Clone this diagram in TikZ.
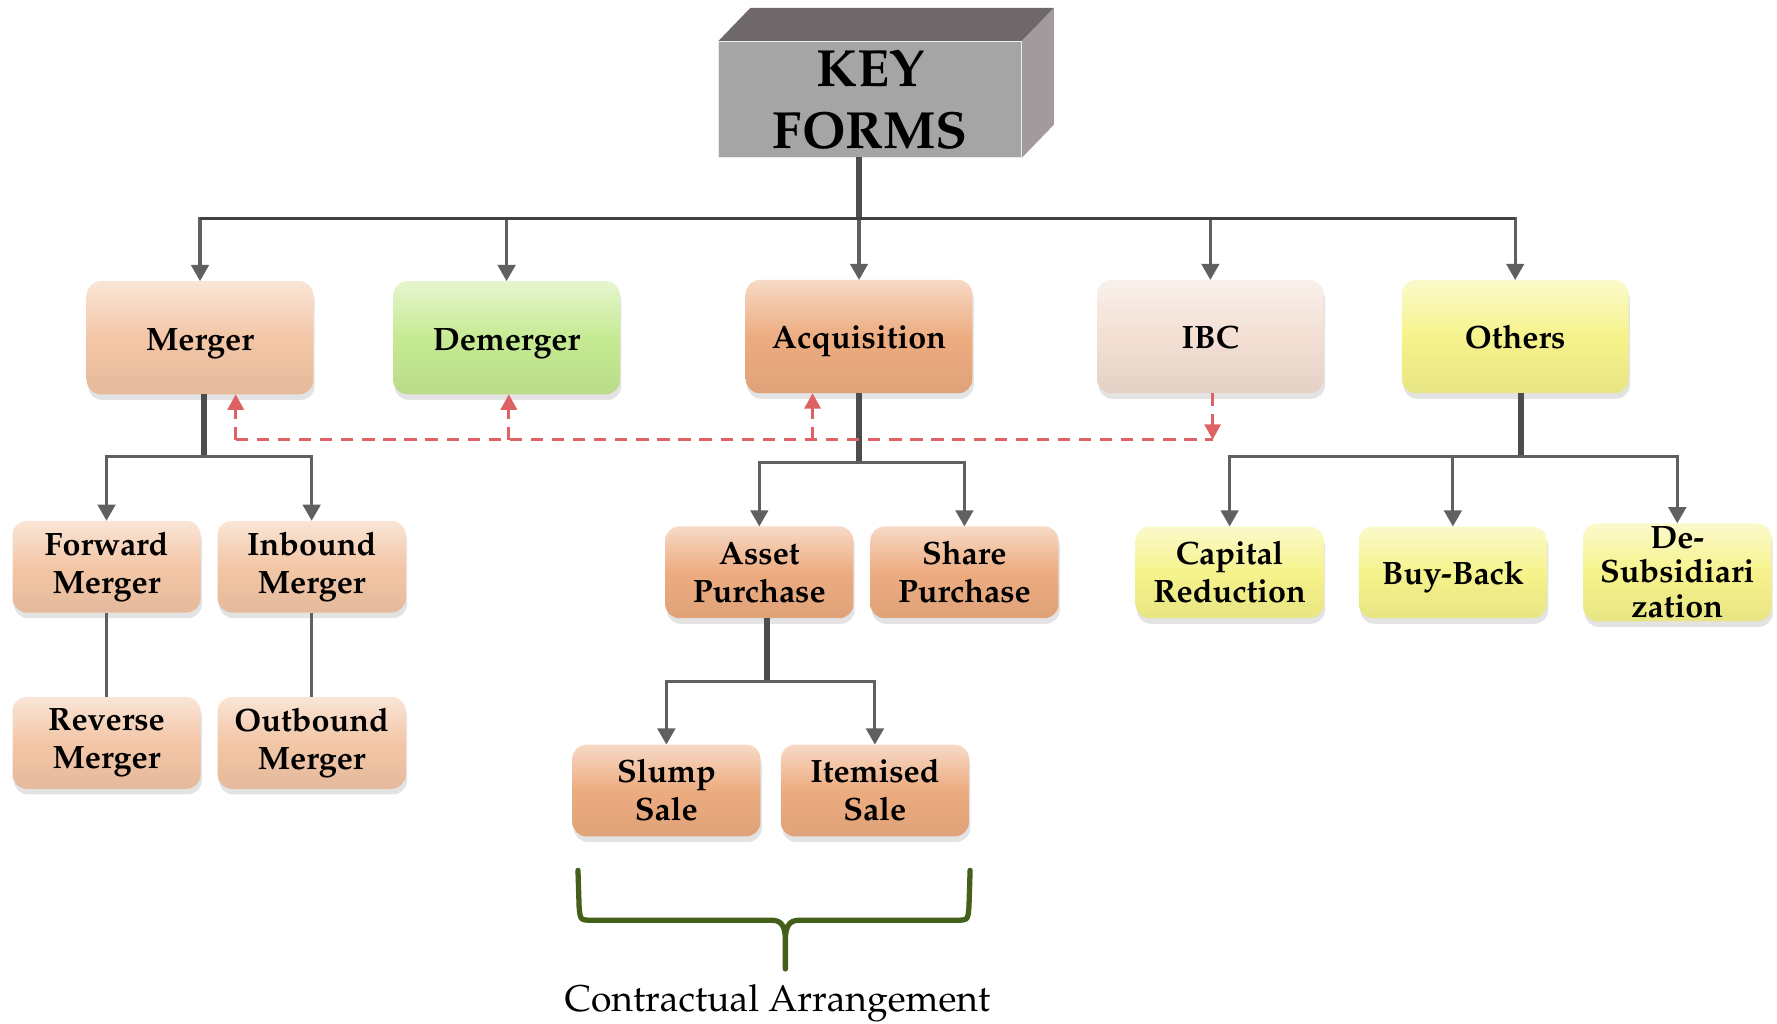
\documentclass[tikz,border=0pt]{standalone}
\usepackage[T1]{fontenc}
\usepackage{mathpazo}
\usepackage{xcolor}
\usepackage{tikz}
\usetikzlibrary{arrows.meta,shadows}

\definecolor{peach}{HTML}{F3C6A6}
\definecolor{salmon}{HTML}{EDAC80}
\definecolor{leaf}{HTML}{C6EA93}
\definecolor{blush}{HTML}{F3DFD3}
\definecolor{lemon}{HTML}{F6F38C}
\definecolor{keyfront}{HTML}{A5A5A5}
\definecolor{keytop}{HTML}{6E686A}
\definecolor{keyside}{HTML}{A29A9C}
\definecolor{wire}{HTML}{606060}
\definecolor{dashred}{HTML}{DE6163}
\definecolor{olive}{HTML}{435F19}

\tikzset{
  tone/.style={top color=#1!45!white, bottom color=#1!94!black, middle color=#1},
  box/.style={rounded corners=4pt, minimum width=2.267cm, minimum height=1.133cm,
    inner sep=1pt, outer sep=0pt, align=center,
    font=\fontsize{9.2}{10.8}\selectfont\bfseries,
    drop shadow={opacity=0.22, shadow xshift=0.4pt, shadow yshift=-1.6pt}},
  subbox/.style={box, minimum width=1.881cm, minimum height=0.918cm},
  oneline/.style={text height=1.6ex, text depth=0.1ex},
  wire/.style={draw=wire, line width=0.9pt},
  stem/.style={draw=wire!80!black, line width=1.6pt},
  arrow/.style={wire, -{Triangle[width=5pt,length=4.6pt]}},
  dashline/.style={draw=dashred, line width=0.8pt, dash pattern=on 3.5pt off 2.5pt},
  redarrow/.style={dashline, -{Triangle[width=4.6pt,length=4.4pt]}, dashred},
}

\begin{document}
\begin{tikzpicture}[x=0.011333cm, y=-0.011333cm]
  \useasboundingbox (0,0) rectangle (1568,903);

  % key box with depth
  \node[fill=keyfront, draw=white!85!gray, line width=0.4pt, outer sep=0pt,
    minimum width=3.037cm, minimum height=1.167cm, inner sep=0pt, align=center,
    font=\fontsize{14.9}{17.7}\selectfont\bfseries] (key) at (768,87.5) {KEY\\FORMS};
  \fill[keytop] (key.north west) -- ++(28,-29) -- ++(268,0) -- (key.north east) -- cycle;
  \fill[keyside] (key.north east) -- ++(28,-29) -- ++(0,103) -- (key.south east) -- cycle;

  % main forms
  \node[box, oneline, tone=peach] (merger) at (176.5,298) {Merger};
  \node[box, oneline, tone=leaf] (demerger) at (447,298) {Demerger};
  \node[box, oneline, tone=salmon] (acq) at (758,297) {Acquisition};
  \node[box, oneline, tone=blush] (ibc) at (1068,297) {IBC};
  \node[box, oneline, tone=lemon] (others) at (1337,297) {Others};

  % merger types
  \node[subbox, tone=peach] (fwd) at (94,500) {Forward\\Merger};
  \node[subbox, tone=peach] (inb) at (275,500) {Inbound\\Merger};
  \node[subbox, tone=peach] (rev) at (94,655.5) {Reverse\\Merger};
  \node[subbox, tone=peach] (outb) at (275,655.5) {Outbound\\Merger};

  % acquisition types
  \node[subbox, tone=salmon] (asset) at (670,505) {Asset\\Purchase};
  \node[subbox, tone=salmon] (share) at (851,505) {Share\\Purchase};
  \node[subbox, tone=salmon] (slump) at (588,697.5) {Slump\\Sale};
  \node[subbox, tone=salmon] (itemised) at (772,697.5) {Itemised\\Sale};

  % others
  \node[subbox, tone=lemon] (capred) at (1085,505) {Capital\\Reduction};
  \node[subbox, oneline, tone=lemon] (buyback) at (1282,505) {Buy-Back};
  \node[subbox, tone=lemon, font=\fontsize{9.2}{9.8}\selectfont\bfseries] (desub) at (1480,505) {De-\\Subsidiari\\zation};

  % top level links
  \coordinate (hub) at (758,193);
  \draw[stem] (key.south -| hub) -- (hub);
  \foreach \n in {merger,demerger,acq,ibc,others}
    \draw[arrow] (hub) -| (\n.north);
  \draw[draw=black!75, line width=1pt] (merger.north |- hub) -- (others.north |- hub);

  % merger links
  \coordinate (mhub) at (180,403);
  \draw[stem] (mhub |- merger.south) -- (mhub);
  \draw[arrow] (mhub) -| (fwd.north);
  \draw[arrow] (mhub) -| (inb.north);
  \draw[wire, line width=0.7pt] (fwd.south) -- (rev.north);
  \draw[wire, line width=0.7pt] (inb.south) -- (outb.north);

  % acquisition links
  \coordinate (ahub) at (758,408);
  \draw[stem] (acq.south) -- (ahub);
  \draw[arrow] (ahub) -| (asset.north);
  \draw[arrow] (ahub) -| (share.north);
  \coordinate (phub) at (677,601);
  \draw[stem] (phub |- asset.south) -- (phub);
  \draw[arrow] (phub) -| (slump.north);
  \draw[arrow] (phub) -| (itemised.north);

  % others links
  \coordinate (ohub) at (1342,403);
  \draw[stem] (ohub |- others.south) -- (ohub);
  \foreach \n in {capred,buyback,desub}
    \draw[arrow] (ohub) -| (\n.north);

  % dashed links
  \coordinate (d1) at (208,388);
  \coordinate (d2) at (449,388);
  \coordinate (d3) at (717,388);
  \coordinate (d4) at (1070,388);
  \draw[dashline] (d1) -- (d4);
  \draw[redarrow] (d1) -- (d1 |- merger.south);
  \draw[redarrow] (d2) -- (d2 |- demerger.south);
  \draw[redarrow] (d3) -- (d3 |- acq.south);
  \draw[redarrow] (d4 |- ibc.south) -- (d4);

  % brace
  \draw[olive, line width=1.5pt, line cap=round, line join=round]
    (510,768) -- (511,800) .. controls (512,812) .. (523,812) -- (681,812)
    .. controls (690,812) and (693,818) .. (693,830) -- (693,855)
    -- (693,830) .. controls (693,818) and (696,812) .. (705,812) -- (843,812)
    .. controls (854,812) .. (855,800) -- (856,768);
  \node[font=\fontsize{10.6}{12}\selectfont] (contract) at (686,885) {Contractual Arrangement};
\end{tikzpicture}
\end{document}
